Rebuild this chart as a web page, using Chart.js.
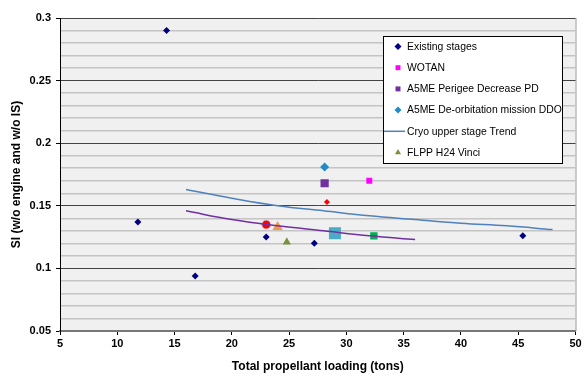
<!DOCTYPE html>
<html>
<head>
<meta charset="utf-8">
<script src="https://cdn.jsdelivr.net/npm/chart.js@4.4.1/dist/chart.umd.min.js"></script>
<style>
  html, body { margin: 0; padding: 0; background: #fff; }
  #wrap { width: 584px; height: 378px; }
</style>
</head>
<body>
<div id="wrap"><canvas id="myChart" width="584" height="378"></canvas></div>
<script>
// values (x = tons, y = SI)
const existingX = [14.3, 11.8, 16.8, 23.0, 27.2, 45.4];
const existingY = [0.290, 0.137, 0.094, 0.125, 0.120, 0.126];
const wotanX = [32.0];
const wotanY = [0.170];
const pdX = [28.1];
const pdY = [0.168];
const ddoX = [28.1];
const ddoY = [0.181];
const vinciX = [24.8];
const vinciY = [0.121];
const redDotX = [28.3];
const redDotY = [0.153];
const redCircleX = [23.0];
const redCircleY = [0.135];
const orangeX = [24.0];
const orangeY = [0.133];
const tealX = [29.0];
const tealY = [0.128];
const greenX = [32.4];
const greenY = [0.126];
const trendX = [16, 20, 24, 28, 32, 36, 40, 44, 48];
const trendY = [0.163, 0.156, 0.150, 0.146, 0.142, 0.139, 0.136, 0.134, 0.131];
const purpleX = [16, 20, 24, 28, 32, 36];
const purpleY = [0.146, 0.139, 0.134, 0.130, 0.126, 0.123];
const legendNames = [
  "Existing stages",
  "WOTAN",
  "A5ME Perigee Decrease PD",
  "A5ME De-orbitation mission DDO",
  "Cryo upper stage Trend",
  "FLPP H24 Vinci",
];

function pts(xs, ys) {
  return xs.map((x, i) => ({ x: x, y: ys[i] }));
}

function marker(label, xs, ys, style, radius, color, border) {
  return {
    label: label,
    data: pts(xs, ys),
    pointStyle: style,
    pointRadius: radius,
    pointHoverRadius: radius,
    backgroundColor: color,
    borderColor: border || color,
    pointBorderWidth: border ? 1 : 0,
    showLine: false,
  };
}

function trend(label, xs, ys, color) {
  return {
    label: label,
    data: pts(xs, ys),
    showLine: true,
    borderColor: color,
    backgroundColor: color,
    borderWidth: 1.5,
    pointRadius: 0,
    pointStyle: "line",
    tension: 0.4,
  };
}

const font = "'Liberation Sans', Arial, sans-serif";

// grey plot background + grey right edge
const plotBg = {
  id: "plotBg",
  beforeDraw(chart) {
    const a = chart.chartArea, ctx = chart.ctx;
    ctx.save();
    ctx.fillStyle = "#f0f0f0";
    ctx.fillRect(a.left, a.top, a.right - a.left, a.bottom - a.top);
    ctx.strokeStyle = "#999";
    ctx.lineWidth = 1;
    ctx.beginPath();
    ctx.moveTo(a.right + 0.5, a.top);
    ctx.lineTo(a.right + 0.5, a.bottom);
    ctx.stroke();
    ctx.restore();
  },
};

// boxed legend inside the plot, top right
const boxLegend = {
  id: "boxLegend",
  afterDraw(chart) {
    const ctx = chart.ctx;
    const bx = 383, by = 36, bw = 179, bh = 127;
    ctx.save();
    ctx.fillStyle = "#fff";
    ctx.fillRect(bx, by, bw, bh);
    ctx.strokeStyle = "#000";
    ctx.lineWidth = 1;
    ctx.strokeRect(bx + 0.5, by + 0.5, bw, bh);
    ctx.font = "10.4px " + font;
    ctx.textBaseline = "middle";
    legendNames.forEach((name, i) => {
      const ds = chart.data.datasets.find(d => d.label === name);
      const y = by + 10.5 + i * 21.2;
      if (ds.showLine) {
        ctx.strokeStyle = ds.borderColor;
        ctx.lineWidth = 1.5;
        ctx.beginPath();
        ctx.moveTo(bx + 1, y);
        ctx.lineTo(bx + 22, y);
        ctx.stroke();
      } else {
        ctx.fillStyle = ds.backgroundColor;
        ctx.strokeStyle = ds.borderColor;
        Chart.helpers.drawPoint(ctx, {
          pointStyle: ds.pointStyle,
          radius: Math.min(ds.pointRadius, 3.5),
          borderWidth: 0,
        }, bx + 15, y);
      }
      ctx.fillStyle = "#000";
      ctx.fillText(name, bx + 24, y + 0.5);
    });
    ctx.restore();
  },
};

let canvas = document.getElementById("myChart");
let chart = new Chart(canvas, {
  type: "scatter",
  data: {
    datasets: [
      trend("Cryo upper stage Trend", trendX, trendY, "#4f81bd"),
      trend("Purple trend", purpleX, purpleY, "#7030a0"),
      marker("Existing stages", existingX, existingY, "rectRot", 3.5, "#000080"),
      marker("WOTAN", wotanX, wotanY, "rect", 4.2, "#ff00ff"),
      marker("A5ME Perigee Decrease PD", pdX, pdY, "rect", 5.8, "#7030a0"),
      marker("A5ME De-orbitation mission DDO", ddoX, ddoY, "rectRot", 4.5, "#1f8bc9"),
      marker("FLPP H24 Vinci", vinciX, vinciY, "triangle", 4.8, "#77933c"),
      marker("red dot", redDotX, redDotY, "rectRot", 3, "#ff0000"),
      marker("red circle", redCircleX, redCircleY, "circle", 4.5, "#ff0000", "#c8c8e0"),
      marker("orange", orangeX, orangeY, "triangle", 6, "#f79646"),
      marker("teal", tealX, tealY, "rect", 8.5, "#4bacc6"),
      marker("green", greenX, greenY, "rect", 5.2, "#00b050"),
    ],
  },
  options: {
    responsive: false,
    animation: false,
    events: [],
    layout: { padding: { top: 18, right: 6, left: 0, bottom: 0 } },
    plugins: {
      legend: { display: false },
      tooltip: { enabled: false },
    },
    scales: {
      x: {
        type: "linear",
        min: 5,
        max: 50,
        ticks: {
          stepSize: 5,
          color: "#000",
          font: { family: font, size: 11, weight: "bold" },
          padding: 2,
          maxRotation: 0,
        },
        grid: {
          drawOnChartArea: false,
          tickLength: 4,
          tickColor: "#000",
        },
        border: { color: "#777", width: 2 },
        title: {
          display: true,
          text: "Total propellant loading (tons)",
          color: "#000",
          font: { family: font, size: 12, weight: "bold" },
          padding: { top: 8 },
        },
        afterFit(scale) { scale.height = 47; },
      },
      y: {
        type: "linear",
        min: 0.05,
        max: 0.3,
        ticks: {
          stepSize: 0.01,
          autoSkip: false,
          color: "#000",
          font: { family: font, size: 11, weight: "bold" },
          padding: 5,
          callback: v => (Math.round(v * 100) % 5 === 0 ? String(+v.toFixed(2)) : ""),
        },
        grid: {
          color: c => (Math.round(c.tick.value * 100) % 5 === 0 ? "#444" : "#c4c4c4"),
          lineWidth: c => (Math.round(c.tick.value * 100) % 5 === 0 ? 1 : 1.5),
          tickLength: 4,
          tickColor: c => (Math.round(c.tick.value * 100) % 5 === 0 ? "#000" : "rgba(0,0,0,0)"),
        },
        border: { color: "#000", width: 1 },
        title: {
          display: true,
          text: "SI (w/o engine and w/o IS)",
          color: "#000",
          font: { family: font, size: 12, weight: "bold" },
          padding: { top: 9, bottom: 2 },
        },
        afterFit(scale) { scale.width = 60; },
      },
    },
  },
  plugins: [plotBg, boxLegend],
});
</script>
</body>
</html>
